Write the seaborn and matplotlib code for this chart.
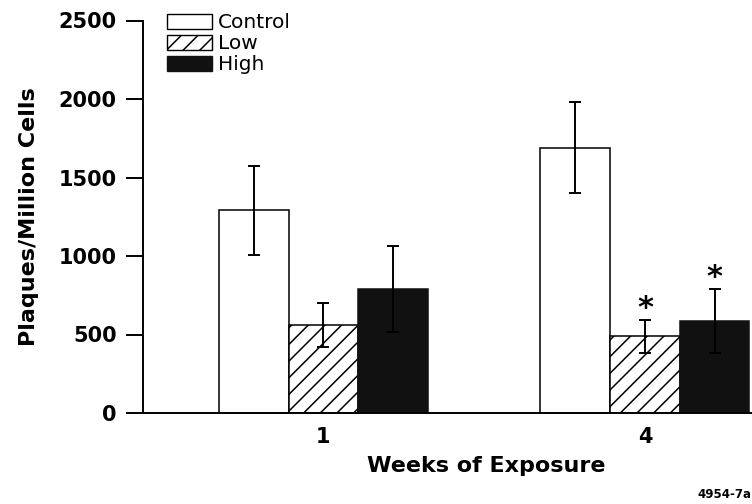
import pandas as pd
import seaborn as sns
import matplotlib.pyplot as plt
from matplotlib.patches import Patch

# values
weeks = ['1', '4']
groups = ['Control', 'Low', 'High']
control = [1290, 1690]
low = [560, 490]
high = [790, 585]
control_err = [285, 290]
low_err = [140, 105]
high_err = [275, 205]
starred = [('4', 'Low'), ('4', 'High')]

rows = []
for i, w in enumerate(weeks):
    for g, vals, errs in zip(groups, [control, low, high], [control_err, low_err, high_err]):
        rows.append({'week': w, 'group': g, 'value': vals[i], 'err': errs[i]})
df = pd.DataFrame(rows)

sns.set_theme(style='ticks')
plt.rcParams['font.family'] = ['DejaVu Sans']
plt.rcParams['text.color'] = 'black'
plt.rcParams['axes.labelcolor'] = 'black'
plt.rcParams['hatch.linewidth'] = 1.1

fig = plt.figure(figsize=(7.52, 5.04), dpi=100)
ax = fig.add_axes([143 / 752, 1 - 413 / 504, 609 / 752, 392.5 / 504])

sns.barplot(data=df, x='week', y='value', hue='group', order=weeks,
            hue_order=groups, width=0.65, errorbar=None, saturation=1,
            palette=['white', 'white', '#111111'], edgecolor='black',
            linewidth=1.1, legend=False, ax=ax)

hatches = ['', '//', '']
for k, (g, cont) in enumerate(zip(groups, ax.containers)):
    for w, bar in zip(weeks, cont):
        bar.set_hatch(hatches[k])
        if g == 'High':
            bar.set_edgecolor('#111111')
        row = df[(df.week == w) & (df.group == g)].iloc[0]
        xc = bar.get_x() + bar.get_width() / 2
        ax.errorbar(xc, row.value, yerr=row.err, fmt='none', ecolor='black',
                    elinewidth=1.4, capsize=4, capthick=1.4, zorder=5)
        if (w, g) in starred:
            ax.annotate('*', xy=(xc, row.value + row.err), xytext=(0, 2),
                        textcoords='offset points', ha='center', va='baseline',
                        fontsize=22, fontweight='bold')

ax.set_ylim(0, 2500)
ax.set_yticks(range(0, 2501, 500))
ax.set_xlim(-0.561, 1.333)
sns.despine(ax=ax)
for s in ['left', 'bottom']:
    ax.spines[s].set_linewidth(1.4)
    ax.spines[s].set_color('black')

ax.tick_params(axis='y', length=12, width=1.4, pad=7, labelsize=15, colors='black')
ax.tick_params(axis='x', length=0, pad=10, labelsize=15, colors='black')
for lab in ax.get_xticklabels() + ax.get_yticklabels():
    lab.set_fontweight('bold')

ax.set_ylabel('Plaques/Million Cells', fontsize=16, fontweight='bold')
ax.yaxis.set_label_coords(-0.17, 0.5)
ax.set_xlabel('Weeks of Exposure', fontsize=16, fontweight='bold')
ax.xaxis.set_label_coords(0.563, -0.11)

handles = [Patch(facecolor='white', edgecolor='black', label='Control'),
           Patch(facecolor='white', edgecolor='black', hatch='//', label='Low'),
           Patch(facecolor='#111111', edgecolor='#111111', label='High')]
ax.legend(handles=handles, loc='upper left', bbox_to_anchor=(0.04, 1.018),
          frameon=False, fontsize=14.5, handlelength=2.2, handleheight=0.72,
          handletextpad=0.3, labelspacing=0.1, borderpad=0, borderaxespad=0,
          labelcolor='black')

fig.text(0.999, 1 - 495 / 504, '4954-7a', ha='right', va='center',
         fontsize=8.5, fontweight='bold')

fig.savefig('out.png', dpi=100)
